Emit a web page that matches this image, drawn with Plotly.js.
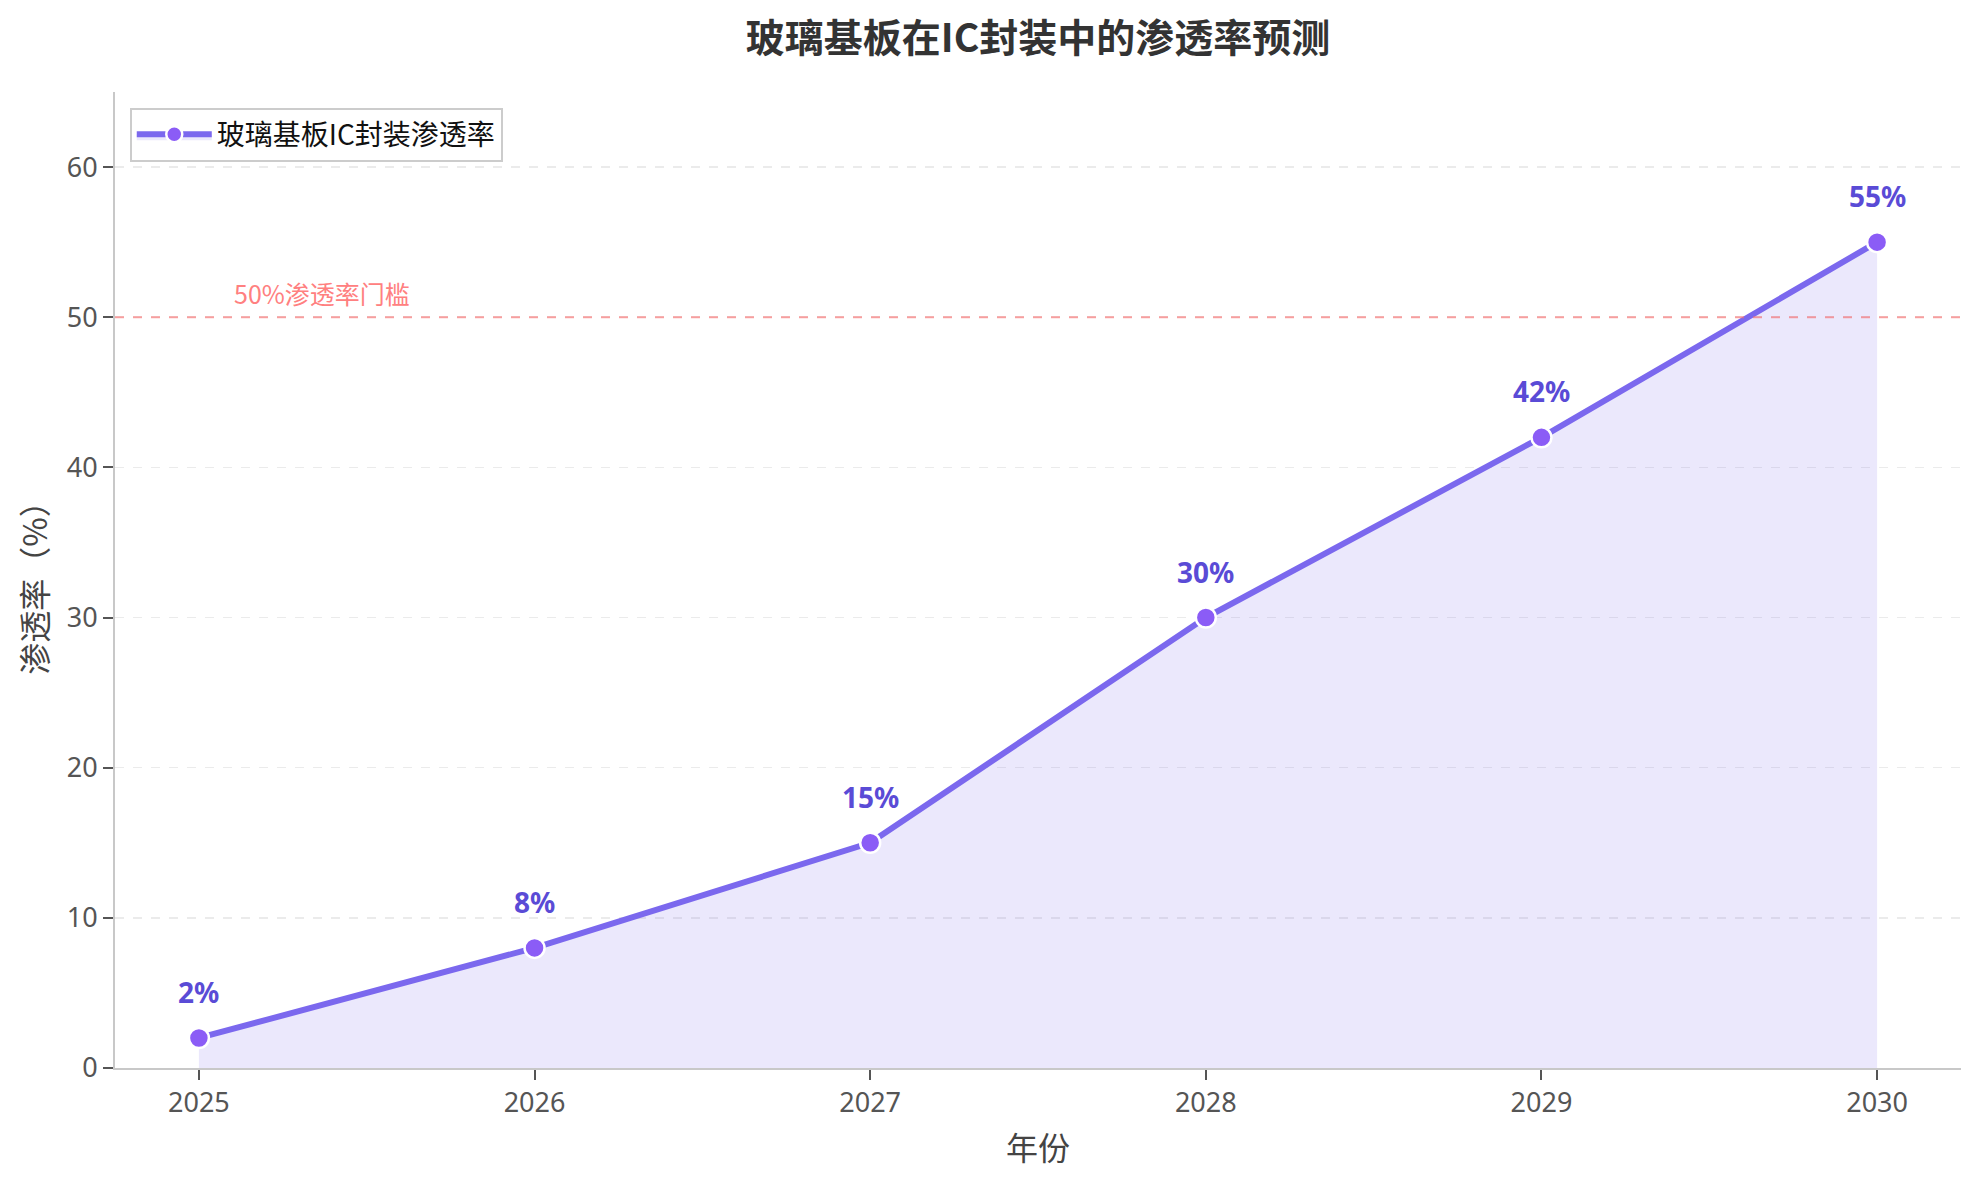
<!DOCTYPE html>
<html>
<head>
<meta charset="utf-8">
<script src="https://cdn.plot.ly/plotly-3.0.1.min.js"></script>
<style>
  html, body { margin: 0; padding: 0; background: #fff; }
  #chart { width: 1981px; height: 1181px; }
</style>
</head>
<body>
<div id="chart"></div>
<script>
// 玻璃基板渗透率预测
let years = [2025, 2026, 2027, 2028, 2029, 2030];
let rates = [2, 8, 15, 30, 42, 55];
let rateLabels = ['2%', '8%', '15%', '30%', '42%', '55%'];
let threshold = 50;
let yTicks = [0, 10, 20, 30, 40, 50, 60];

const FONT = '"Noto Sans", "Noto Sans CJK SC", sans-serif';
const CJK = '"Noto Sans CJK SC", "Noto Sans", sans-serif';

let trace = {
    type: 'scatter',
    mode: 'lines+markers',
    name: '玻璃基板IC封装渗透率',
    x: years,
    y: rates,
    fill: 'tozeroy',
    fillcolor: 'rgba(123,104,238,0.15)',
    line: { color: '#7B68EE', width: 6 },
    marker: { color: '#8B5CF6', size: 20, line: { color: '#ffffff', width: 2.5 } },
    hoverinfo: 'x+y'
};

let annotations = [];
for (let i = 0; i < years.length; i++) {
    annotations.push({
        x: years[i],
        y: rates[i],
        xref: 'x',
        yref: 'y',
        text: '<b>' + rateLabels[i] + '</b>',
        showarrow: false,
        xanchor: 'center',
        yanchor: 'middle',
        yshift: 46,
        font: { family: FONT, size: 28, color: '#5A4BD6' }
    });
}
annotations.push({
    x: 2025.1,
    y: threshold,
    xref: 'x',
    yref: 'y',
    text: '50%渗透率门槛',
    showarrow: false,
    xanchor: 'left',
    yanchor: 'bottom',
    yshift: 4,
    font: { family: CJK, size: 25, color: '#FF8080' }
});

let layout = {
    width: 1981,
    height: 1181,
    paper_bgcolor: '#ffffff',
    plot_bgcolor: '#ffffff',
    margin: { l: 115, r: 20, t: 92, b: 113 },
    font: { family: FONT, color: '#555' },
    title: {
        text: '<b>玻璃基板在IC封装中的渗透率预测</b>',
        xref: 'paper',
        x: 0.5,
        xanchor: 'center',
        y: 1 - 38 / 1181,
        yanchor: 'middle',
        font: { family: CJK, size: 39, color: '#333333' }
    },
    xaxis: {
        range: [2024.75, 2030.25],
        tickvals: years,
        ticktext: years.map(String),
        showgrid: false,
        zeroline: false,
        showline: true,
        linecolor: '#c8c8c8',
        linewidth: 2,
        ticks: 'outside',
        ticklen: 10,
        tickwidth: 2,
        tickcolor: '#555',
        tickfont: { family: FONT, size: 27, color: '#555' },
        title: { text: '年份', standoff: 18, font: { family: CJK, size: 32, color: '#444' } }
    },
    yaxis: {
        range: [0, 65],
        tickvals: yTicks,
        showgrid: true,
        gridcolor: '#ebebeb',
        griddash: 'dash',
        gridwidth: 1.5,
        zeroline: false,
        showline: true,
        linecolor: '#c8c8c8',
        linewidth: 2,
        ticks: 'outside',
        ticklen: 10,
        tickwidth: 2,
        tickcolor: '#555',
        tickfont: { family: FONT, size: 27, color: '#555' },
        title: { text: '渗透率（%）', standoff: 10, font: { family: CJK, size: 32, color: '#444' } }
    },
    shapes: [{
        type: 'line',
        xref: 'paper',
        yref: 'y',
        x0: 0,
        x1: 1,
        y0: threshold,
        y1: threshold,
        line: { color: 'rgba(255,107,107,0.6)', width: 2, dash: 'dash' }
    }],
    legend: {
        x: 0.008,
        y: 0.984,
        xanchor: 'left',
        yanchor: 'top',
        bgcolor: 'rgba(255,255,255,0.9)',
        bordercolor: '#cccccc',
        borderwidth: 2,
        itemwidth: 75,
        font: { family: CJK, size: 28, color: '#111' }
    },
    showlegend: true,
    annotations: annotations
};

Plotly.newPlot('chart', [trace], layout, { displayModeBar: false, staticPlot: true });
</script>
</body>
</html>
